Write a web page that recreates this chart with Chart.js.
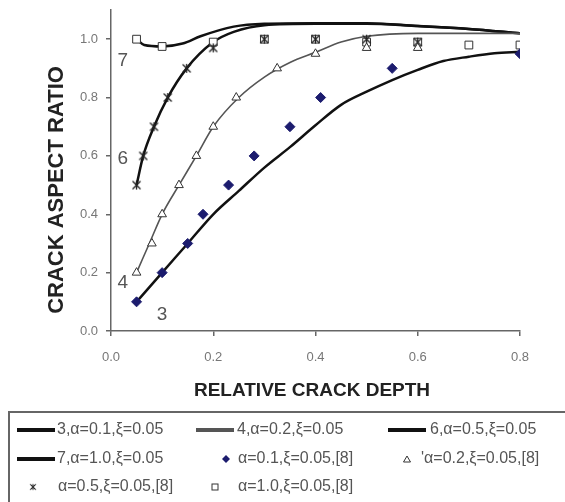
<!DOCTYPE html>
<html>
<head>
<title>Crack aspect ratio</title>
<script src="https://cdn.jsdelivr.net/npm/chart.js"></script>
<style>
  body { margin: 0; background: #fff; }
  #wrap { width: 565px; height: 502px; }
</style>
</head>
<body>
<div id="wrap"><canvas id="chart" width="565" height="502"></canvas></div>
<script>
// theory curves (relative crack depth -> crack aspect ratio)
const curve3X = [0.05, 0.1, 0.15, 0.2, 0.25, 0.3, 0.35, 0.4, 0.45, 0.5, 0.55, 0.6, 0.65, 0.7, 0.75, 0.8];
const curve3Y = [0.1, 0.2, 0.3, 0.4, 0.48, 0.56, 0.63, 0.705, 0.775, 0.82, 0.86, 0.895, 0.925, 0.94, 0.952, 0.957];
const curve4X = [0.05, 0.075, 0.1, 0.133, 0.167, 0.2, 0.25, 0.3, 0.35, 0.4, 0.45, 0.5, 0.6, 0.7, 0.8];
const curve4Y = [0.2, 0.3, 0.4, 0.5, 0.6, 0.7, 0.8, 0.87, 0.92, 0.955, 0.99, 1.01, 1.02, 1.02, 1.02];
const curve6X = [0.05, 0.063, 0.084, 0.111, 0.148, 0.2, 0.24, 0.3, 0.4, 0.5, 0.6, 0.7, 0.8];
const curve6Y = [0.5, 0.6, 0.7, 0.8, 0.9, 0.99, 1.025, 1.048, 1.053, 1.053, 1.045, 1.035, 1.02];
const curve7X = [0.05, 0.065, 0.1, 0.14, 0.175, 0.24, 0.3, 0.4, 0.5, 0.6, 0.7, 0.8];
const curve7Y = [1.0, 0.98, 0.975, 0.985, 1.01, 1.043, 1.053, 1.055, 1.055, 1.045, 1.035, 1.02];

// reference [8] points
const ref01X = [0.05, 0.1, 0.15, 0.18, 0.23, 0.28, 0.35, 0.41, 0.55, 0.8];
const ref01Y = [0.1, 0.2, 0.3, 0.4, 0.5, 0.6, 0.7, 0.8, 0.9, 0.95];
const ref02X = [0.05, 0.08, 0.1, 0.133, 0.167, 0.2, 0.245, 0.325, 0.4, 0.5, 0.6];
const ref02Y = [0.2, 0.3, 0.4, 0.5, 0.6, 0.7, 0.8, 0.9, 0.95, 0.97, 0.97];
const ref05X = [0.05, 0.063, 0.084, 0.111, 0.148, 0.2, 0.3, 0.4, 0.5, 0.6];
const ref05Y = [0.5, 0.6, 0.7, 0.8, 0.9, 0.97, 1.0, 1.0, 1.0, 0.99];
const ref10X = [0.05, 0.1, 0.2, 0.3, 0.4, 0.5, 0.6, 0.7, 0.8];
const ref10Y = [1.0, 0.975, 0.99, 1.0, 1.0, 0.99, 0.99, 0.98, 0.98];

const xTicks = [0, 0.2, 0.4, 0.6, 0.8];
const yTicks = [0, 0.2, 0.4, 0.6, 0.8, 1.0];

const seriesLabels = [
    '3,\u03b1=0.1,\u03be=0.05', '4,\u03b1=0.2,\u03be=0.05', '6,\u03b1=0.5,\u03be=0.05', '7,\u03b1=1.0,\u03be=0.05',
    '\u03b1=0.1,\u03be=0.05,[8]', '\'\u03b1=0.2,\u03be=0.05,[8]', '\u03b1=0.5,\u03be=0.05,[8]', '\u03b1=1.0,\u03be=0.05,[8]'
];

// curve number tags, placed in data coordinates
const tagText = ['7', '6', '4', '3'];
const tagX = [0.023, 0.023, 0.023, 0.1];
const tagY = [0.925, 0.59, 0.165, 0.055];

const FONT = '"Liberation Sans", Arial, sans-serif';

function pts(xs, ys) {
    return xs.map((x, i) => ({ x: x, y: ys[i] }));
}

// excel-like star marker: X with a vertical stroke
function makeStar() {
    const c = document.createElement('canvas');
    c.width = 11; c.height = 11;
    const g = c.getContext('2d');
    g.strokeStyle = '#222';
    g.lineWidth = 1.3;
    g.beginPath();
    g.moveTo(1.5, 1.5); g.lineTo(9.5, 9.5);
    g.moveTo(9.5, 1.5); g.lineTo(1.5, 9.5);
    g.moveTo(5.5, 1); g.lineTo(5.5, 10);
    g.stroke();
    return c;
}
const starImg = makeStar();

function lineSet(label, xs, ys, color, width) {
    return {
        label: label, data: pts(xs, ys), showLine: true, borderColor: color, borderWidth: width,
        pointRadius: 0, cubicInterpolationMode: 'monotone', order: 2
    };
}

function markSet(label, xs, ys, style, radius, fill, stroke) {
    return {
        label: label, data: pts(xs, ys), showLine: false, pointStyle: style, pointRadius: radius,
        backgroundColor: fill, borderColor: stroke, borderWidth: 1, order: 1
    };
}

// legend layout: [dataset index, text x, row y, symbol kind, symbol x]
const legendCells = [
    [0, 57, 430, 'line', 17], [1, 237, 430, 'line', 196], [2, 430, 430, 'line', 388],
    [3, 57, 459, 'line', 17], [4, 238, 459, 'diamond', 226], [5, 421, 459, 'triangle', 407],
    [6, 58, 487, 'star', 33], [7, 238, 487, 'square', 215]
];

const extras = {
    id: 'extras',
    afterDraw(chart) {
        const ctx = chart.ctx;
        const xs = chart.scales.x, ys = chart.scales.y;
        ctx.save();

        // curve tags
        ctx.fillStyle = '#555';
        ctx.font = '19px ' + FONT;
        ctx.textAlign = 'center';
        ctx.textBaseline = 'middle';
        tagText.forEach((t, i) => ctx.fillText(t, xs.getPixelForValue(tagX[i]), ys.getPixelForValue(tagY[i])));

        // axis titles
        ctx.fillStyle = '#222';
        ctx.font = 'bold 19px ' + FONT;
        ctx.fillText('RELATIVE CRACK DEPTH', 312, 391);
        ctx.save();
        ctx.translate(57, 190);
        ctx.rotate(-Math.PI / 2);
        ctx.font = 'bold 22px ' + FONT;
        ctx.fillText('CRACK ASPECT RATIO', 0, 0);
        ctx.restore();

        // legend box
        ctx.strokeStyle = '#666';
        ctx.lineWidth = 2;
        ctx.strokeRect(9, 412, 570, 100);

        ctx.font = '16px ' + FONT;
        ctx.textAlign = 'left';
        legendCells.forEach(cell => {
            const [di, tx, ty, kind, sx] = cell;
            const ds = chart.data.datasets[di];
            ctx.fillStyle = '#555';
            ctx.fillText(seriesLabels[di], tx, ty);
            if (kind === 'line') {
                ctx.strokeStyle = ds.borderColor;
                ctx.lineWidth = 4;
                ctx.beginPath(); ctx.moveTo(sx, ty); ctx.lineTo(sx + 38, ty); ctx.stroke();
            } else if (kind === 'diamond') {
                ctx.fillStyle = ds.backgroundColor;
                ctx.beginPath();
                ctx.moveTo(sx, ty - 4); ctx.lineTo(sx + 4, ty); ctx.lineTo(sx, ty + 4); ctx.lineTo(sx - 4, ty);
                ctx.closePath(); ctx.fill();
            } else if (kind === 'triangle') {
                ctx.strokeStyle = '#333'; ctx.lineWidth = 1;
                ctx.beginPath();
                ctx.moveTo(sx, ty - 3); ctx.lineTo(sx + 3.5, ty + 3); ctx.lineTo(sx - 3.5, ty + 3);
                ctx.closePath(); ctx.stroke();
            } else if (kind === 'star') {
                ctx.drawImage(starImg, sx - 4, ty - 4, 8, 8);
            } else if (kind === 'square') {
                ctx.strokeStyle = '#333'; ctx.lineWidth = 1;
                ctx.strokeRect(sx - 3, ty - 3, 6, 6);
            }
        });
        ctx.restore();
    }
};

const chart = new Chart(document.getElementById('chart'), {
    type: 'scatter',
    data: {
        datasets: [
            lineSet(seriesLabels[0], curve3X, curve3Y, '#111', 2.5),
            lineSet(seriesLabels[1], curve4X, curve4Y, '#555', 1.6),
            lineSet(seriesLabels[2], curve6X, curve6Y, '#111', 2.5),
            lineSet(seriesLabels[3], curve7X, curve7Y, '#111', 2.5),
            markSet(seriesLabels[4], ref01X, ref01Y, 'rectRot', 5, '#1c1c6e', '#1c1c6e'),
            markSet(seriesLabels[5], ref02X, ref02Y, 'triangle', 5, '#fff', '#333'),
            markSet(seriesLabels[6], ref05X, ref05Y, starImg, 5, '#fff', '#222'),
            markSet(seriesLabels[7], ref10X, ref10Y, 'rect', 5.5, '#fff', '#333')
        ]
    },
    options: {
        responsive: false,
        animation: false,
        layout: { padding: { left: 0, right: 45, top: 10, bottom: 102 } },
        plugins: { legend: { display: false }, tooltip: { enabled: false } },
        scales: {
            x: {
                type: 'linear', min: 0, max: 0.8,
                afterBuildTicks: axis => { axis.ticks = xTicks.map(v => ({ value: v })); },
                afterFit: axis => { axis.height = 69; axis.paddingLeft = 0; axis.paddingRight = 0; },
                grid: { drawOnChartArea: false, drawTicks: true, tickLength: 5, color: '#666', lineWidth: 1.5 },
                border: { color: '#666', width: 1.5 },
                ticks: { color: '#777', font: { family: FONT, size: 13 }, padding: 14, callback: v => v.toFixed(1) }
            },
            y: {
                type: 'linear', min: 0, max: 1.1,
                afterBuildTicks: axis => { axis.ticks = yTicks.map(v => ({ value: v })); },
                afterFit: axis => { axis.width = 111; axis.paddingTop = 0; axis.paddingBottom = 0; },
                grid: { drawOnChartArea: false, drawTicks: true, tickLength: 5, color: '#666', lineWidth: 1.5 },
                border: { color: '#666', width: 1.5 },
                ticks: { color: '#777', font: { family: FONT, size: 13 }, padding: 8, callback: v => v.toFixed(1) }
            }
        }
    },
    plugins: [extras]
});
</script>
</body>
</html>
